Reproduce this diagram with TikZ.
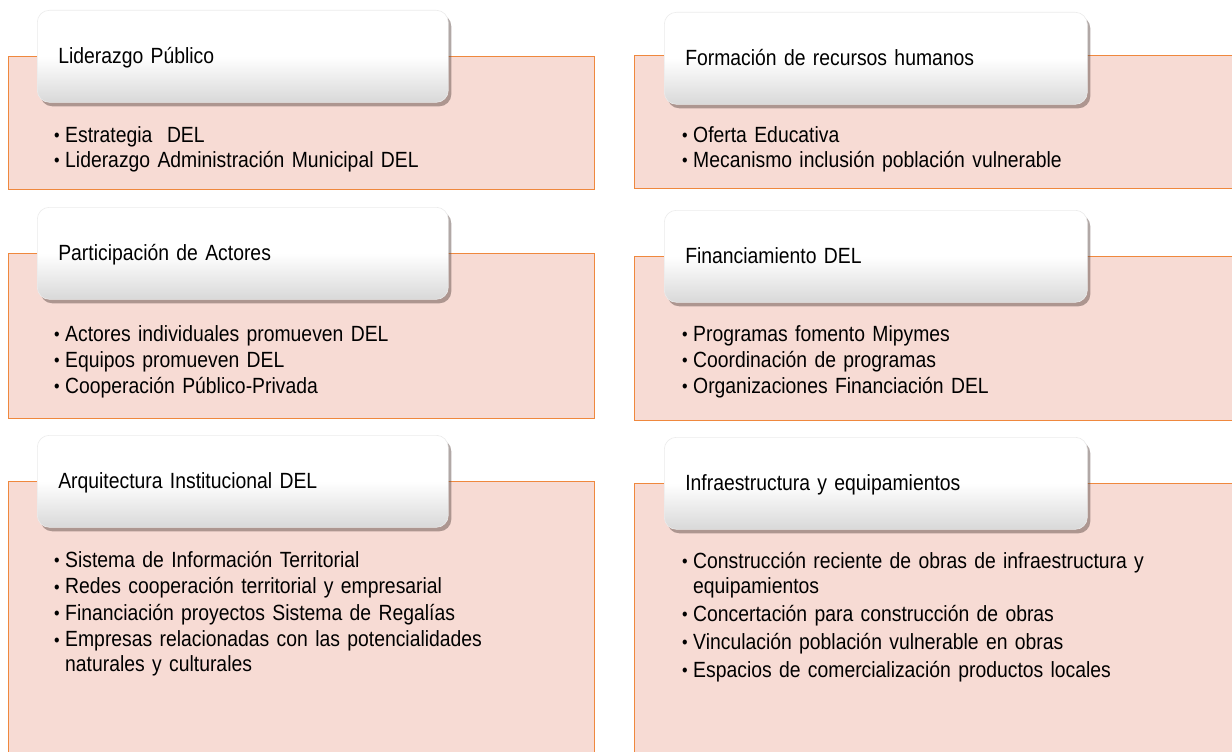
\documentclass[tikz,border=0pt]{standalone}
\usepackage{fontspec}
\setmainfont[FakeStretch=0.88]{Liberation Sans}
\usetikzlibrary{positioning,shadows}

\definecolor{panelfill}{RGB}{247,219,212}
\definecolor{panelline}{RGB}{239,136,62}
\definecolor{shadowcol}{RGB}{100,82,78}
\newcommand{\itm}{\makebox[11pt][l]{\raisebox{0.3pt}{\fontsize{18}{18}\selectfont •}}}
\newcommand{\cont}{\hspace*{11pt}}
\newcommand{\hstrut}{\rule[-7pt]{0pt}{29pt}}

\begin{document}
\begin{tikzpicture}[x=1pt, y=-1pt,
    panel/.style={draw=panelline, line width=1.2pt, fill=panelfill, anchor=north west, inner sep=0pt},
    header/.style={anchor=north west, rounded corners=12pt, draw=black!8, line width=0.6pt,
        top color=white, bottom color=black!15, middle color=white,
        text width=#1, inner xsep=21pt, minimum height=92pt, align=left, font=\fontsize{22}{25}\selectfont,
        drop shadow={shadow xshift=3pt, shadow yshift=-4pt, fill=shadowcol, opacity=0.5}},
    items/.style={anchor=north west, inner sep=0pt, text width=540pt, align=left, font=\fontsize{22}{25}\selectfont}]

        \useasboundingbox (0,0) rectangle (1232,752);

        % orange panels, left column
        \node[panel, minimum width=586pt, minimum height=133pt] (lpanel1) at (8,56) {};
        \node[panel, minimum width=586pt, minimum height=165pt] (lpanel2) at (8,253) {};
        \node[panel, minimum width=586pt, minimum height=290pt] (lpanel3) at (8,481) {};

        % orange panels, right column
        \node[panel, minimum width=620pt, minimum height=133pt] (rpanel1) at (634,55) {};
        \node[panel, minimum width=620pt, minimum height=164pt] (rpanel2) at (634,256) {};
        \node[panel, minimum width=620pt, minimum height=290pt] (rpanel3) at (634,483) {};

        % headers
        \node[header=369pt] (lhead1) at (37,10) {\hstrut Liderazgo Público};
        \node[header=369pt] (lhead2) at (37,207) {\hstrut Participación de Actores};
        \node[header=369pt] (lhead3) at (37,435) {\hstrut Arquitectura Institucional DEL};
        \node[header=381pt] (rhead1) at (664,12) {\hstrut Formación de recursos humanos};
        \node[header=381pt] (rhead2) at (664,210) {\hstrut Financiamiento DEL};
        \node[header=381pt] (rhead3) at (664,437) {\hstrut Infraestructura y equipamientos};

        % bullet lists
        \node[items] (litems1) at (54,124.5) {\strut\itm Estrategia\ \ DEL\\
            \itm Liderazgo Administración Municipal DEL};
        \node[items] (litems2) at (54,323.5) {\strut\itm Actores individuales promueven DEL\\[1pt]
            \itm Equipos promueven DEL\\[1pt]
            \itm Cooperación Público-Privada};
        \node[items] (litems3) at (54,549.5) {\strut\itm Sistema de Información Territorial\\[1.5pt]
            \itm Redes cooperación territorial y empresarial\\[1.5pt]
            \itm Financiación proyectos Sistema de Regalías\\[1.5pt]
            \itm Empresas relacionadas con las potencialidades\\
            \cont naturales y culturales};

        \node[items] (ritems1) at (682,124.5) {\strut\itm Oferta Educativa\\
            \itm Mecanismo inclusión población vulnerable};
        \node[items] (ritems2) at (682,323.5) {\strut\itm Programas fomento Mipymes\\[1pt]
            \itm Coordinación de programas\\[1pt]
            \itm Organizaciones Financiación DEL};
        \node[items] (ritems3) at (682,550.5) {\strut\itm Construcción reciente de obras de infraestructura y\\
            \cont equipamientos\\[3pt]
            \itm Concertación para construcción de obras\\[3pt]
            \itm Vinculación población vulnerable en obras\\[3pt]
            \itm Espacios de comercialización productos locales};

    \end{tikzpicture}
\end{document}
